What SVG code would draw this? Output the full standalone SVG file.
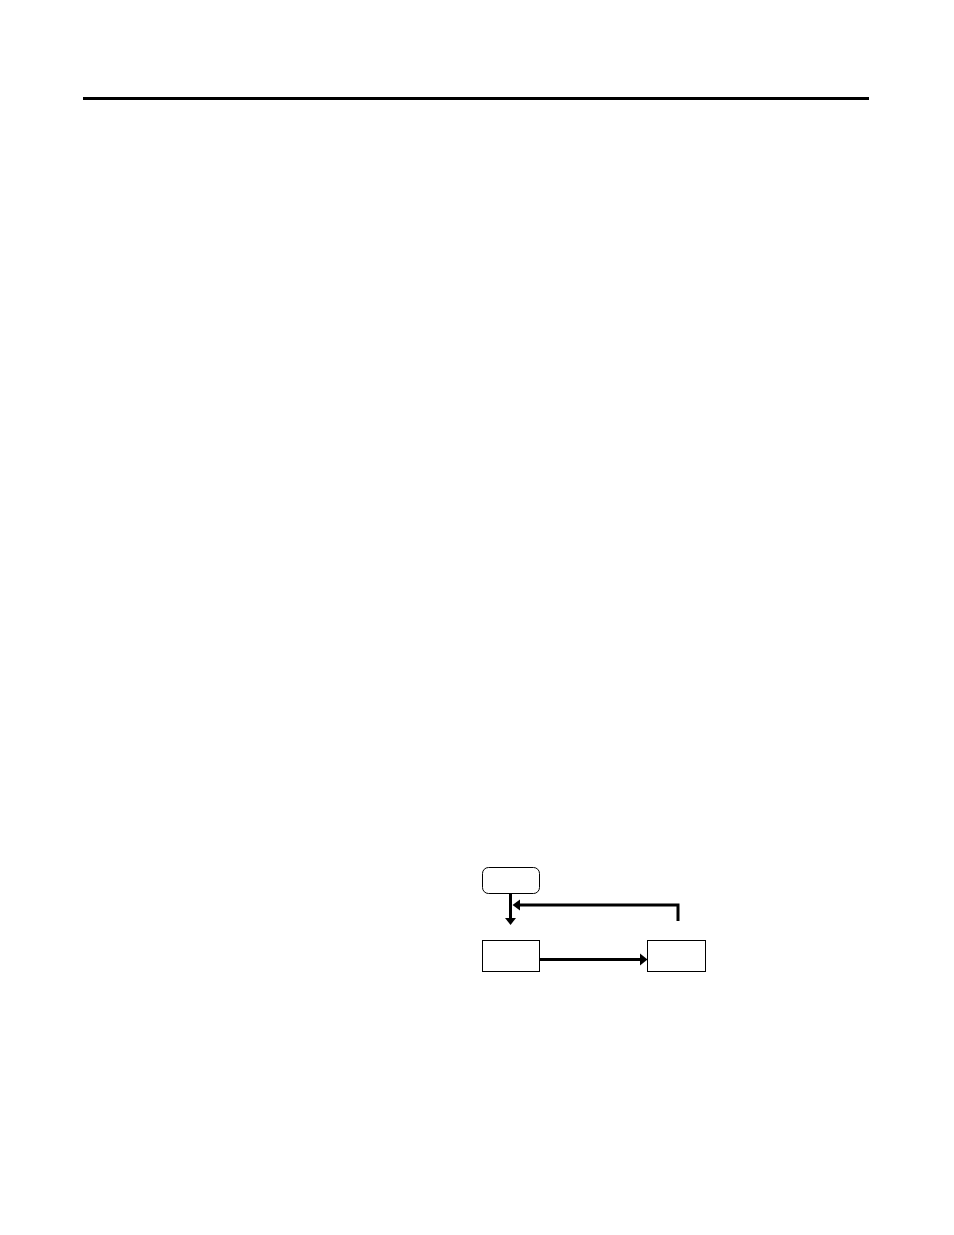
<svg xmlns="http://www.w3.org/2000/svg" width="954" height="1235" viewBox="0 0 954 1235">
<style>
.node{fill:#fff;stroke:#000;stroke-width:1}
.conn{fill:none;stroke:#000;stroke-width:3}
.head{fill:#000;stroke:none}
</style>
<rect width="954" height="1235" fill="#fff"/>
<line x1="83" y1="98.5" x2="869" y2="98.5" stroke="#000" stroke-width="3"/>
<g id="start"><rect class="node" x="482.5" y="867.5" width="57" height="26" rx="6" ry="6"/></g>
<g id="box1"><rect class="node" x="482.5" y="940.5" width="57" height="31"/></g>
<g id="box2"><rect class="node" x="647.5" y="940.5" width="58" height="31"/></g>
<g id="connectors">
<path class="conn" d="M510.5 894 V918"/>
<polygon class="head" points="505,918 516,918 510.5,925"/>
<path class="conn" d="M678 921 V905 H519"/>
<polygon class="head" points="512.5,905 520,899.5 520,910.5"/>
<path class="conn" d="M540 959.5 H641"/>
<polygon class="head" points="647.5,959.5 640,953.5 640,965.5"/>
</g>
</svg>
